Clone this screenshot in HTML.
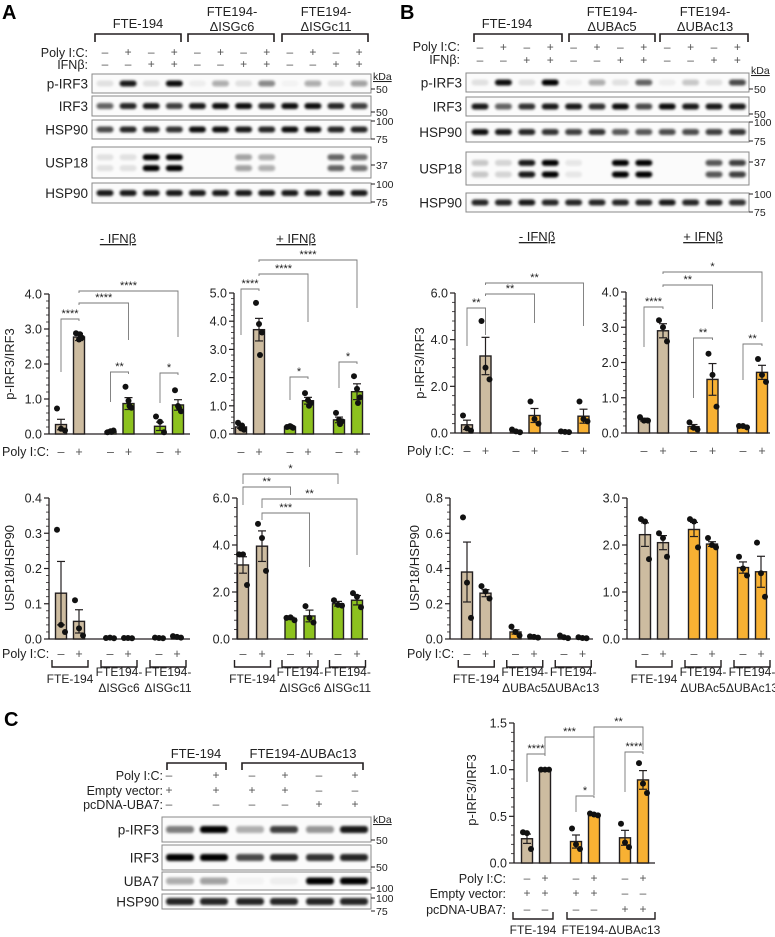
<!DOCTYPE html>
<html><head><meta charset="utf-8">
<style>
html,body{margin:0;padding:0;background:#fff;}
svg{display:block;font-family:"Liberation Sans",Arial,sans-serif;}
</style></head>
<body>
<svg id="fig" width="775" height="937" viewBox="0 0 775 937">
<defs>
<filter id="blur" x="-30%" y="-80%" width="160%" height="260%"><feGaussianBlur stdDeviation="1.3"/></filter>
</defs>
</svg>
<script>
// ---------- chart data ----------
const groupsA = ["FTE-194", "FTE194-|ΔISGc6", "FTE194-|ΔISGc11"];
const groupsB = ["FTE-194", "FTE194-|ΔUBAc5", "FTE194-|ΔUBAc13"];
const polyIC = ["–", "+", "–", "+", "–", "+"];

const a1Values = [0.27, 2.77, 0.07, 0.87, 0.22, 0.83];
const a1Errors = [0.15, 0.10, 0.02, 0.17, 0.12, 0.15];
const a1Points = [[0.73,0.15,0.10],[2.88,2.70,2.75,2.85],[0.05,0.08,0.10,0.06],[1.35,0.95,0.75,0.80],[0.50,0.35,0.05],[1.25,0.80,0.65,0.75]];
const a1Ticks = [0,1,2,3,4];
const a1TickLabels = ["0.0","1.0","2.0","3.0","4.0"];

const a2Values = [0.25, 3.70, 0.25, 1.18, 0.50, 1.50];
const a2Errors = [0.05, 0.40, 0.02, 0.12, 0.10, 0.28];
const a2Points = [[0.40,0.20,0.15,0.30],[4.65,3.90,3.60,2.80],[0.25,0.28,0.22,0.26],[1.45,1.20,1.10,1.00],[0.75,0.50,0.45,0.35],[2.05,1.60,1.30,1.10]];
const a2Ticks = [0,1,2,3,4,5];
const a2TickLabels = ["0.0","1.0","2.0","3.0","4.0","5.0"];

const a3Values = [0.13, 0.05, 0.003, 0.003, 0.003, 0.006];
const a3Errors = [0.09, 0.033, 0.001, 0.001, 0.001, 0.002];
const a3Points = [[0.31,0.04,0.02],[0.11,0.03,0.01],[0.003,0.004,0.002],[0.003,0.003,0.002],[0.004,0.003,0.002],[0.008,0.006,0.004]];
const a3Ticks = [0,0.1,0.2,0.3,0.4];
const a3TickLabels = ["0.0","0.1","0.2","0.3","0.4"];

const a4Values = [3.15, 3.95, 0.88, 0.98, 1.50, 1.65];
const a4Errors = [0.35, 0.65, 0.05, 0.25, 0.10, 0.20];
const a4Points = [[3.6,3.6,2.3],[4.9,4.3,2.9],[0.90,0.92,0.80],[1.40,0.90,0.70],[1.65,1.45,1.42],[1.95,1.80,1.35]];
const a4Ticks = [0,2,4,6];
const a4TickLabels = ["0.0","2.0","4.0","6.0"];

const b1Values = [0.35, 3.30, 0.08, 0.75, 0.05, 0.72];
const b1Errors = [0.20, 0.80, 0.03, 0.30, 0.02, 0.30];
const b1Points = [[0.75,0.20,0.10],[4.8,2.8,2.3],[0.15,0.07,0.03],[1.35,0.60,0.40],[0.07,0.05,0.04],[1.35,0.60,0.50]];
const b1Ticks = [0,2,4,6];
const b1TickLabels = ["0.0","2.0","4.0","6.0"];

const b2Values = [0.38, 2.90, 0.18, 1.52, 0.18, 1.72];
const b2Errors = [0.04, 0.20, 0.06, 0.45, 0.02, 0.20];
const b2Points = [[0.45,0.35,0.35],[3.2,3.0,2.6],[0.30,0.15,0.10],[2.25,1.65,0.75],[0.20,0.20,0.16],[2.10,1.65,1.45]];
const b2Ticks = [0,1,2,3,4];
const b2TickLabels = ["0.0","1.0","2.0","3.0","4.0"];

const b3Values = [0.38, 0.26, 0.04, 0.01, 0.01, 0.005];
const b3Errors = [0.17, 0.02, 0.012, 0.003, 0.004, 0.002];
const b3Points = [[0.69,0.32,0.12],[0.30,0.27,0.23],[0.07,0.04,0.02],[0.015,0.012,0.008],[0.02,0.01,0.005],[0.010,0.006,0.004]];
const b3Ticks = [0,0.2,0.4,0.6,0.8];
const b3TickLabels = ["0.0","0.2","0.4","0.6","0.8"];

const b4Values = [2.22, 2.05, 2.33, 2.02, 1.52, 1.43];
const b4Errors = [0.25, 0.15, 0.15, 0.05, 0.12, 0.33];
const b4Points = [[2.55,2.50,1.70],[2.25,2.15,1.75],[2.55,2.50,1.95],[2.15,2.00,1.95],[1.75,1.50,1.35],[2.05,1.40,0.90]];
const b4Ticks = [0,1,2,3];
const b4TickLabels = ["0.0","1.0","2.0","3.0"];

const cValues = [0.26, 1.00, 0.23, 0.52, 0.27, 0.89];
const cErrors = [0.05, 0.005, 0.07, 0.01, 0.08, 0.10];
const cPoints = [[0.33,0.32,0.15],[1.0,1.0,1.0],[0.37,0.20,0.15],[0.53,0.52,0.51],[0.42,0.22,0.17],[1.07,0.85,0.75]];
const cTicks = [0,0.5,1.0,1.5];
const cTickLabels = ["0.0","0.5","1.0","1.5"];
const cEmpty = ["+","+","+","+","–","–"];
const cUba7 = ["–","–","–","–","+","+"];

// blot intensities
const aBlot = {
  "p-IRF3":[0.1,0.9,0.1,0.95,0.05,0.3,0.1,0.45,0.03,0.3,0.1,0.35],
  "IRF3":[0.6,0.85,0.9,0.75,0.9,0.95,0.95,0.85,0.95,0.95,0.85,0.75],
  "HSP90":[0.7,0.85,0.85,0.8,0.95,0.95,0.9,0.85,0.95,0.95,0.85,0.85],
  "USP18":[0.1,0.1,1,1,0,0,0.35,0.3,0,0,0.6,0.55],
  "HSP90b":[0.9,0.9,0.9,0.9,0.9,0.9,0.9,0.9,0.9,0.9,0.9,0.9]
};
const bBlot = {
  "p-IRF3":[0.1,0.95,0.1,1,0.05,0.3,0.1,0.6,0.05,0.2,0.1,0.7],
  "IRF3":[0.9,0.6,0.8,0.9,0.9,0.8,0.95,0.7,0.95,0.9,0.9,0.9],
  "HSP90":[0.95,0.9,0.85,0.8,0.75,0.8,0.65,0.65,0.7,0.7,0.75,0.8],
  "USP18":[0.2,0.15,0.9,1,0.08,0,1,1,0,0,0.65,0.75],
  "HSP90b":[0.85,0.85,0.9,0.85,0.85,0.85,0.85,0.85,0.9,0.85,0.85,0.8]
};
const cBlot = {
  "p-IRF3":[0.5,1,0.3,0.75,0.4,0.9],
  "IRF3":[1,1,0.7,0.85,0.8,0.85],
  "UBA7":[0.3,0.35,0.03,0.05,1,1],
  "HSP90":[0.85,0.85,0.85,0.85,0.85,0.85]
};

// ---------- helpers ----------
const NS = "http://www.w3.org/2000/svg";
const svg = document.getElementById("fig");
const TAN = "#cdbca0", GREEN = "#8dc21f", ORANGE = "#f8b133", INK = "#231f20";
const TICK_FS = 12.5, TITLE_FS = 13, ROW_FS = 12.5;
function mk(tag, attrs, name, parent) {
  const el = document.createElementNS(NS, tag);
  for (const k in attrs) el.setAttribute(k, attrs[k]);
  
  
  (parent || svg).appendChild(el);
  return el;
}
function txt(x, y, s, name, opt) {
  opt = opt || {};
  const t = mk("text", {x: x, y: y, "font-size": opt.size || 11, "text-anchor": opt.anchor || "middle",
    fill: opt.fill || "#222", "font-weight": opt.weight || "normal"}, name, opt.parent);
  if (opt.underline) t.setAttribute("text-decoration", "underline");
  if (opt.rotate) t.setAttribute("transform", "rotate(-90 " + x + " " + y + ")");
  t.textContent = s;
  return t;
}
function line(x1, y1, x2, y2, name, w, col, parent) {
  return mk("line", {x1: x1, y1: y1, x2: x2, y2: y2, stroke: col || INK, "stroke-width": w || 1}, name, parent);
}
function pline(pts, name, w, col) {
  return mk("polyline", {points: pts.map(p => p.join(",")).join(" "), fill: "none", stroke: col || INK, "stroke-width": w || 1}, name);
}

// ---------- bar chart ----------
function barChart(cfg, values, errors, points, ticks, tickLabels, colors) {
  const g = mk("g", {}, cfg.name);
  const y = v => cfg.y0 - v / cfg.max * (cfg.y0 - cfg.top);
  const x = i => cfg.x0 + Math.floor(i / 2) * cfg.gStep + (i % 2) * cfg.pStep;
  line(cfg.xa, cfg.top, cfg.xa, cfg.y0, "y-axis", 1.3, INK, g);
  line(cfg.xa, cfg.y0, cfg.xe, cfg.y0, "x-axis", 1.3, INK, g);
  ticks.forEach((t, k) => {
    line(cfg.xa - 5, y(t), cfg.xa, y(t), "y-tick", 1.2, INK, g);
    txt(cfg.xa - 7, y(t) + 4.5, tickLabels[k], "y-tick-label", {anchor: "end", size: TICK_FS, parent: g});
    if (k < ticks.length - 1) {
      for (let m = 1; m < 5; m++) {
        const v = t + (ticks[k + 1] - t) * m / 5;
        line(cfg.xa - 3, y(v), cfg.xa, y(v), "y-minor-tick", 0.8, INK, g);
      }
    }
  });
  values.forEach((v, i) => {
    const bw = 11;
    mk("rect", {x: x(i) - bw / 2, y: y(v), width: bw, height: Math.max(cfg.y0 - y(v), 0.5),
      fill: colors[i], stroke: INK, "stroke-width": 1.4}, "bar-" + (i + 1), g);
    const e = errors[i];
    line(x(i), y(v + e), x(i), y(Math.max(v - e, 0)), "error-bar", 1.2, INK, g);
    line(x(i) - 4, y(v + e), x(i) + 4, y(v + e), "error-cap", 1.2, INK, g);
    line(x(i) - 4, y(Math.max(v - e, 0)), x(i) + 4, y(Math.max(v - e, 0)), "error-cap", 1.2, INK, g);
    const offs = points[i].length === 4 ? [-3, 0, 3, 1] : [-4, 0, 4];
    points[i].forEach((p, j) => {
      mk("circle", {cx: x(i) + offs[j], cy: y(p), r: 3, fill: "#111"}, "data-point", g);
    });
  });
  return {x: x, y: y};
}
function sig(ax, list, name) {
  list.forEach(s => {
    const x1 = ax.x(s[0]), x2 = ax.x(s[1]);
    pline([[x1, s[3]], [x1, s[2]], [x2, s[2]], [x2, s[4]]], name + "-bracket", 0.9, "#777");
    txt((x1 + x2) / 2, s[2] - 2, s[5], name + "-asterisks", {size: 11, fill: "#222"});
  });
}
function polyRow(ax, yy, name) {
  polyIC.forEach((s, i) => txt(ax.x(i), yy, s, name, {size: ROW_FS, fill: "#555"}));
}
function groupRow(ax, groups, yb, name) {
  groups.forEach((gname, k) => {
    const cx = (ax.x(2 * k) + ax.x(2 * k + 1)) / 2;
    pline([[cx - 18, yb], [cx - 18, yb + 7], [cx + 18, yb + 7], [cx + 18, yb]], name + "-bracket", 1.4);
    const parts = gname.split("|");
    if (parts.length === 1) txt(cx, yb + 23, parts[0], name + "-label", {size: 12});
    else { txt(cx, yb + 16, parts[0], name + "-label", {size: 12}); txt(cx, yb + 32, parts[1], name + "-label", {size: 12}); }
  });
}

// ---------- blots ----------
function blot(cfg, data, rows) {
  const g = mk("g", {}, cfg.name);
  rows.forEach(r => {
    mk("rect", {x: cfg.bx, y: r.y, width: cfg.bw, height: r.h, fill: "#fbfbfb", stroke: "#888", "stroke-width": 1}, "blot-strip", g);
    txt(cfg.bx - 4, r.y + r.h / 2 + 5, r.label, "blot-label", {anchor: "end", size: 13.5, parent: g});
    const vals = data[r.key];
    vals.forEach((v, i) => {
      const cx = cfg.l0 + i * cfg.lStep;
      const bands = r.double ? [r.y + r.h * 0.33, r.y + r.h * 0.68] : [r.y + r.h * 0.5];
      bands.forEach(by => {
        mk("rect", {x: cx - cfg.bandW / 2, y: by - 3, width: cfg.bandW, height: 6, rx: 3, fill: "#000",
          opacity: v, filter: "url(#blur)"}, "band", g);
      });
    });
  });
}
function kda(x, marks) {
  marks.forEach(m => {
    if (m[1] === "kDa") { txt(x + 2, m[0], "kDa", "kda-label", {anchor: "start", size: 10.5, underline: true}); return; }
    line(x, m[0], x + 4, m[0], "kda-tick", 1);
    txt(x + 5, m[0] + 4, m[1], "kda-marker", {anchor: "start", size: 10.5});
  });
}
function headerBrackets(list) {
  list.forEach(b => {
    pline([[b[0], 42], [b[0], 34], [b[1], 34], [b[1], 42]], "group-bracket", 1.6);
  });
}

// ===== Panel A blot =====
txt(2, 19, "A", "panel-label-a", {anchor: "start", size: 20, weight: "bold", fill: "#000"});
txt(138, 28, "FTE-194", "header-fte194", {size: 13});
txt(232, 16, "FTE194-", "header-isgc6", {size: 13}); txt(232, 31, "ΔISGc6", "header-isgc6", {size: 13});
txt(326, 16, "FTE194-", "header-isgc11", {size: 13}); txt(326, 31, "ΔISGc11", "header-isgc11", {size: 13});
headerBrackets([[95,181],[188,274],[282,368]]);
txt(88, 57, "Poly I:C:", "poly-ic-label", {anchor: "end", size: 12.5});
txt(88, 69, "IFNβ:", "ifnb-label", {anchor: "end", size: 12.5});
const polyBlot = ["–","+","–","+","–","+","–","+","–","+","–","+"];
const ifnBlot = ["–","–","+","+","–","–","+","+","–","–","+","+"];
for (let i = 0; i < 12; i++) {
  txt(105 + i * 23.1, 56, polyBlot[i], "poly-sign", {size: 12, fill: "#555"});
  txt(105 + i * 23.1, 68, ifnBlot[i], "ifn-sign", {size: 12, fill: "#555"});
}
blot({name: "blot-a", bx: 92, bw: 279, l0: 105, lStep: 23.1, bandW: 17}, aBlot, [
  {key: "p-IRF3", label: "p-IRF3", y: 74, h: 19},
  {key: "IRF3", label: "IRF3", y: 96, h: 20},
  {key: "HSP90", label: "HSP90", y: 120, h: 19},
  {key: "USP18", label: "USP18", y: 147, h: 31, double: true},
  {key: "HSP90b", label: "HSP90", y: 183, h: 20}
]);
kda(371, [[80,"kDa"],[89,"50"],[112,"50"],[121,"100"],[139,"75"],[165,"37"],[184,"100"],[202,"75"]]);

// ===== Panel B blot =====
txt(400, 19, "B", "panel-label-b", {anchor: "start", size: 20, weight: "bold", fill: "#000"});
txt(507, 28, "FTE-194", "header-fte194-b", {size: 13});
txt(612, 16, "FTE194-", "header-ubac5", {size: 13}); txt(612, 31, "ΔUBAc5", "header-ubac5", {size: 13});
txt(705, 16, "FTE194-", "header-ubac13", {size: 13}); txt(705, 31, "ΔUBAc13", "header-ubac13", {size: 13});
headerBrackets([[474,562],[569,655],[660,748]]);
txt(460, 51, "Poly I:C:", "poly-ic-label-b", {anchor: "end", size: 12.5});
txt(460, 64, "IFNβ:", "ifnb-label-b", {anchor: "end", size: 12.5});
for (let i = 0; i < 12; i++) {
  txt(480 + i * 23.4, 51, polyBlot[i], "poly-sign", {size: 12, fill: "#555"});
  txt(480 + i * 23.4, 64, ifnBlot[i], "ifn-sign", {size: 12, fill: "#555"});
}
blot({name: "blot-b", bx: 466, bw: 283, l0: 480, lStep: 23.4, bandW: 17}, bBlot, [
  {key: "p-IRF3", label: "p-IRF3", y: 73, h: 19},
  {key: "IRF3", label: "IRF3", y: 97, h: 19},
  {key: "HSP90", label: "HSP90", y: 122, h: 20},
  {key: "USP18", label: "USP18", y: 152, h: 33, double: true},
  {key: "HSP90b", label: "HSP90", y: 193, h: 19}
]);
kda(749, [[74,"kDa"],[89,"50"],[114,"50"],[122,"100"],[141,"75"],[162,"37"],[194,"100"],[212,"75"]]);

// ===== Panel A charts =====
txt(118, 243, "- IFNβ", "header-minus-ifnb", {size: 13, underline: true});
txt(296, 243, "+ IFNβ", "header-plus-ifnb", {size: 13, underline: true});
const axA1 = barChart({name: "chart-a-pirf3-minus-ifnb", xa: 49, xe: 190, y0: 434, top: 294, max: 4, x0: 61, gStep: 49.5, pStep: 18}, a1Values, a1Errors, a1Points, a1Ticks, a1TickLabels, [TAN,TAN,GREEN,GREEN,GREEN,GREEN]);
sig(axA1, [[0,1,319,372,321,"****"],[1,3,303,305,340,"****"],[1,5,291,293,337,"****"],[2,3,372,402,374,"**"],[4,5,373,403,375,"*"]], "sig-a1");
const axA2 = barChart({name: "chart-a-pirf3-plus-ifnb", xa: 234, xe: 370, y0: 434, top: 293, max: 5, x0: 241, gStep: 49, pStep: 18}, a2Values, a2Errors, a2Points, a2Ticks, a2TickLabels, [TAN,TAN,GREEN,GREEN,GREEN,GREEN]);
sig(axA2, [[0,1,289,335,291,"****"],[1,3,274,276,322,"****"],[1,5,260,262,308,"****"],[2,3,377,400,379,"*"],[4,5,362,388,364,"*"]], "sig-a2");
txt(14, 364, "p-IRF3/IRF3", "y-axis-title-a1", {size: TITLE_FS, rotate: true});
txt(2, 456, "Poly I:C:", "poly-ic-row-label", {anchor: "start", size: ROW_FS});
polyRow(axA1, 456, "poly-sign"); polyRow(axA2, 456, "poly-sign");

const axA3 = barChart({name: "chart-a-usp18-minus-ifnb", xa: 49, xe: 190, y0: 639, top: 498, max: 0.4, x0: 61, gStep: 49, pStep: 18}, a3Values, a3Errors, a3Points, a3Ticks, a3TickLabels, [TAN,TAN,GREEN,GREEN,GREEN,GREEN]);
const axA4 = barChart({name: "chart-a-usp18-plus-ifnb", xa: 237, xe: 368, y0: 639, top: 498, max: 6, x0: 243, gStep: 47.5, pStep: 19}, a4Values, a4Errors, a4Points, a4Ticks, a4TickLabels, [TAN,TAN,GREEN,GREEN,GREEN,GREEN]);
sig(axA4, [[0,4,474,484,484,"*"],[0,2,487,505,495,"**"],[1,5,499,508,555,"**"],[1,3,513,520,567,"***"]], "sig-a4");
txt(14, 568, "USP18/HSP90", "y-axis-title-a3", {size: TITLE_FS, rotate: true});
txt(2, 658, "Poly I:C:", "poly-ic-row-label", {anchor: "start", size: ROW_FS});
polyRow(axA3, 658, "poly-sign"); polyRow(axA4, 658, "poly-sign");
groupRow(axA3, groupsA, 660, "group-a3"); groupRow(axA4, groupsA, 660, "group-a4");

// ===== Panel B charts =====
txt(537, 241, "- IFNβ", "header-minus-ifnb-b", {size: 13, underline: true});
txt(703, 241, "+ IFNβ", "header-plus-ifnb-b", {size: 13, underline: true});
const axB1 = barChart({name: "chart-b-pirf3-minus-ifnb", xa: 455, xe: 590, y0: 433, top: 293, max: 6, x0: 467, gStep: 49, pStep: 18.5}, b1Values, b1Errors, b1Points, b1Ticks, b1TickLabels, [TAN,TAN,ORANGE,ORANGE,ORANGE,ORANGE]);
sig(axB1, [[0,1,308,346,335,"**"],[1,3,294,296,323,"**"],[1,5,283,285,326,"**"]], "sig-b1");
const axB2 = barChart({name: "chart-b-pirf3-plus-ifnb", xa: 626, xe: 770, y0: 433, top: 292, max: 4, x0: 644, gStep: 49.5, pStep: 19}, b2Values, b2Errors, b2Points, b2Ticks, b2TickLabels, [TAN,TAN,ORANGE,ORANGE,ORANGE,ORANGE]);
sig(axB2, [[0,1,307,347,309,"****"],[2,3,338,398,340,"**"],[4,5,344,380,346,"**"],[1,3,285,287,309,"**"],[1,5,272,274,322,"*"]], "sig-b2");
txt(424, 363, "p-IRF3/IRF3", "y-axis-title-b1", {size: TITLE_FS, rotate: true});
txt(407, 455, "Poly I:C:", "poly-ic-row-label", {anchor: "start", size: ROW_FS});
polyRow(axB1, 455, "poly-sign"); polyRow(axB2, 455, "poly-sign");

const axB3 = barChart({name: "chart-b-usp18-minus-ifnb", xa: 450, xe: 593, y0: 639, top: 498, max: 0.8, x0: 467, gStep: 48.5, pStep: 18.5}, b3Values, b3Errors, b3Points, b3Ticks, b3TickLabels, [TAN,TAN,ORANGE,ORANGE,ORANGE,ORANGE]);
const axB4 = barChart({name: "chart-b-usp18-plus-ifnb", xa: 627, xe: 770, y0: 639, top: 498, max: 3, x0: 645, gStep: 49, pStep: 18}, b4Values, b4Errors, b4Points, b4Ticks, b4TickLabels, [TAN,TAN,ORANGE,ORANGE,ORANGE,ORANGE]);
txt(419, 568, "USP18/HSP90", "y-axis-title-b3", {size: TITLE_FS, rotate: true});
txt(407, 658, "Poly I:C:", "poly-ic-row-label", {anchor: "start", size: ROW_FS});
polyRow(axB3, 658, "poly-sign"); polyRow(axB4, 658, "poly-sign");
groupRow(axB3, groupsB, 660, "group-b3"); groupRow(axB4, groupsB, 660, "group-b4");

// ===== Panel C blot =====
txt(4, 726, "C", "panel-label-c", {anchor: "start", size: 20, weight: "bold", fill: "#000"});
txt(196, 758, "FTE-194", "header-c-fte194", {size: 13});
txt(303, 758, "FTE194-ΔUBAc13", "header-c-ubac13", {size: 13});
pline([[167,770],[167,763],[226,763],[226,770]], "group-bracket", 1.6);
pline([[242,770],[242,763],[363,763],[363,770]], "group-bracket", 1.6);
txt(163, 780, "Poly I:C:", "c-poly-label", {anchor: "end", size: 12.5});
txt(163, 795, "Empty vector:", "c-empty-label", {anchor: "end", size: 12.5});
txt(163, 809, "pcDNA-UBA7:", "c-uba7-label", {anchor: "end", size: 12.5});
const cLanes = [169,216,252,285,319,355];
for (let i = 0; i < 6; i++) {
  txt(cLanes[i], 779, polyIC[i], "poly-sign", {size: 12, fill: "#555"});
  txt(cLanes[i], 794, cEmpty[i], "empty-sign", {size: 12, fill: "#555"});
  txt(cLanes[i], 808, cUba7[i], "uba7-sign", {size: 12, fill: "#555"});
}
const gC = mk("g", {}, "blot-c");
[["p-IRF3",817,25],["IRF3",845,25],["UBA7",872,18],["HSP90",894,15]].forEach(r => {
  mk("rect", {x: 162, y: r[1], width: 209, height: r[2], fill: "#fbfbfb", stroke: "#888"}, "blot-strip", gC);
  txt(159, r[1] + r[2] / 2 + 5, r[0], "blot-label", {anchor: "end", size: 13.5, parent: gC});
  cBlot[r[0]].forEach((v, i) => {
    const cx = i % 2 === 0 ? 162 + (i / 2) * 70 + 18 : 162 + ((i - 1) / 2) * 70 + 52;
    mk("rect", {x: cx - 14, y: r[1] + r[2] / 2 - 3.5, width: 28, height: 7, rx: 3, fill: "#000", opacity: v, filter: "url(#blur)"}, "band", gC);
  });
});
kda(371, [[823,"kDa"],[840,"50"],[867,"50"],[888,"100"],[898,"100"],[911,"75"]]);

// ===== Panel C chart =====
const axC = barChart({name: "chart-c-pirf3", xa: 514, xe: 655, y0: 863, top: 723, max: 1.5, x0: 527, gStep: 49, pStep: 18}, cValues, cErrors, cPoints, cTicks, cTickLabels, [TAN,TAN,ORANGE,ORANGE,ORANGE,ORANGE]);
sig(axC, [[0,1,754,782,756,"****"],[2,3,796,812,798,"*"],[4,5,752,792,754,"****"],[1,3,737,754,795,"***"],[3,5,727,737,750,"**"]], "sig-c");
txt(476, 790, "p-IRF3/IRF3", "y-axis-title-c", {size: TITLE_FS, rotate: true});
txt(506, 883, "Poly I:C:", "c-chart-poly-label", {anchor: "end", size: 12.5});
txt(506, 898, "Empty vector:", "c-chart-empty-label", {anchor: "end", size: 12.5});
txt(506, 914, "pcDNA-UBA7:", "c-chart-uba7-label", {anchor: "end", size: 12.5});
for (let i = 0; i < 6; i++) {
  txt(axC.x(i), 882, polyIC[i], "poly-sign", {size: 12, fill: "#555"});
  txt(axC.x(i), 897, cEmpty[i], "empty-sign", {size: 12, fill: "#555"});
  txt(axC.x(i), 913, cUba7[i], "uba7-sign", {size: 12, fill: "#555"});
}
pline([[513,912],[513,919],[553,919],[553,912]], "group-bracket", 1.4);
pline([[567,912],[567,919],[655,919],[655,912]], "group-bracket", 1.4);
txt(533, 934, "FTE-194", "c-group-label", {size: 12});
txt(611, 934, "FTE194-ΔUBAc13", "c-group-label", {size: 12});
</script>
</body></html>
